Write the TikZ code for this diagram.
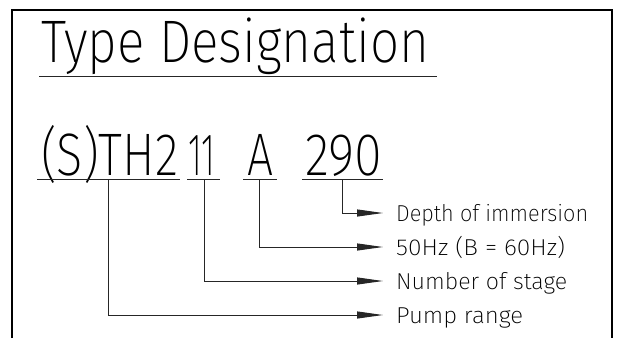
\documentclass[tikz,border=0pt]{standalone}
\usepackage{fontspec}
\usetikzlibrary{arrows.meta}
\newfontfamily\isofont{Fira Sans ExtraLight}
\newcommand{\fitw}[2]{\resizebox{#1}{\height}{#2}}
\begin{document}
\begin{tikzpicture}[x=1pt,y=-1pt,
  txt/.style={inner sep=0pt, anchor=base west},
  big/.style={txt, font=\isofont\fontsize{60}{62}\selectfont},
  lbl/.style={txt, font=\isofont\fontsize{23}{26}\selectfont},
  frame/.style={line width=2pt, black},
  ln/.style={line width=1pt, black!85},
  arr/.style={ln, -{Triangle[length=26pt,width=7pt]}}]
\useasboundingbox (0,0) rectangle (619,338);
\draw[frame] (12,338) -- (12,10) -- (612,10) -- (612,338);
% title
\node[big] (title) at (41,62) {\fitw{388pt}{Type Designation}};
\draw[ln] (39,76) -- (437,76);
% code
\node[big] (cS) at (41,175) {\fitw{137pt}{(S)TH2}};
\node[big] (c11) at (188,175) {\fitw{27pt}{11}};
\node[big] (cA) at (247,175) {\fitw{26pt}{A}};
\node[big] (c290) at (305,175) {\fitw{77pt}{290}};
\draw[ln] (37,179) -- (180,179);
\draw[ln] (187,179) -- (220,179);
\draw[ln] (243,179) -- (277,179);
\draw[ln] (302,179) -- (383,179);
\coordinate (uS) at (108,179);
\coordinate (u11) at (204,179);
\coordinate (uA) at (259,179);
\coordinate (u290) at (342,179);
% arrow tips
\coordinate (tD) at (383,213);
\coordinate (tF) at (383,247);
\coordinate (tN) at (383,281);
\coordinate (tP) at (383,315);
% labels
\node[lbl] (lD) at (396,221) {\fitw{192pt}{Depth of immersion}};
\node[lbl] (lF) at (396,255) {\fitw{169pt}{50Hz (B = 60Hz)}};
\node[lbl] (lN) at (396,289) {\fitw{171pt}{Number of stage}};
\node[lbl] (lP) at (396,323) {\fitw{127pt}{Pump range}};
% connectors
\draw[arr] (u290) |- (tD);
\draw[arr] (uA) |- (tF);
\draw[arr] (u11) |- (tN);
\draw[arr] (uS) |- (tP);
\end{tikzpicture}
\end{document}
